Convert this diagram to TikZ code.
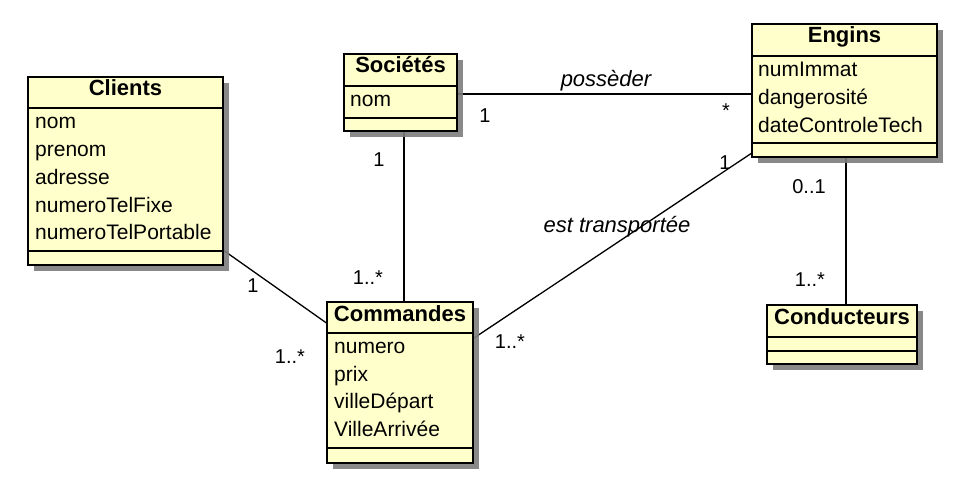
\documentclass[tikz,border=0pt]{standalone}
\usepackage{fontspec}
\setmainfont{Liberation Sans}
\usetikzlibrary{shadows}
\pgfdeclarelayer{background}
\pgfsetlayers{background,main}
\definecolor{umlfill}{RGB}{255,255,204}
\definecolor{shadowgray}{RGB}{125,125,125}
\begin{document}
\begin{tikzpicture}[x=1pt,y=-1pt,
  cls/.style={draw=black, line width=1.6pt, fill=umlfill, inner sep=0pt, outer sep=0pt,
    anchor=north west,
    drop shadow={shadow xshift=6pt, shadow yshift=-6pt, fill=shadowgray, opacity=0.9}},
  div/.style={line width=1.6pt},
  ctitle/.style={font=\fontsize{22}{26}\selectfont\bfseries, anchor=base, inner sep=0pt},
  attr/.style={font=\fontsize{21}{25}\selectfont, anchor=base west, inner sep=0pt},
  mult/.style={font=\fontsize{20}{24}\selectfont, inner sep=0pt},
  rolelbl/.style={font=\fontsize{22}{26}\selectfont\itshape, anchor=base, inner sep=0pt},
  assoc/.style={line width=1.3pt}
]
\useasboundingbox (0,0) rectangle (954,492);

% ---- Clients
\node[cls, minimum width=195pt, minimum height=188pt] (clients) at (28,77) {};
\draw[div] ([yshift=-31pt]clients.north west) -- ([yshift=-31pt]clients.north east);
\draw[div] ([yshift=14pt]clients.south west) -- ([yshift=14pt]clients.south east);
\node[ctitle] (clientsT) at (125.5,96) {Clients};
\node[attr] (cl1) at (35,129) {nom};
\node[attr] (cl2) at (35,157) {prenom};
\node[attr] (cl3) at (35,185) {adresse};
\node[attr] (cl4) at (35,212.5) {numeroTelFixe};
\node[attr] (cl5) at (35,240) {numeroTelPortable};

% ---- Sociétés
\node[cls, minimum width=113pt, minimum height=77pt] (soc) at (344,54) {};
\draw[div] ([yshift=-32pt]soc.north west) -- ([yshift=-32pt]soc.north east);
\draw[div] ([yshift=13pt]soc.south west) -- ([yshift=13pt]soc.south east);
\node[ctitle] (socT) at (400.5,73) {Sociétés};
\node[attr] (so1) at (350,107) {nom};

% ---- Commandes
\node[cls, minimum width=146pt, minimum height=161pt] (cmd) at (327,302) {};
\draw[div] ([yshift=-31pt]cmd.north west) -- ([yshift=-31pt]cmd.north east);
\draw[div] ([yshift=15pt]cmd.south west) -- ([yshift=15pt]cmd.south east);
\node[ctitle] (cmdT) at (400,321.5) {Commandes};
\node[attr] (co1) at (334,353.5) {numero};
\node[attr] (co2) at (334,381) {prix};
\node[attr] (co3) at (334,408.5) {villeDépart};
\node[attr] (co4) at (334,436) {VilleArrivée};

% ---- Engins
\node[cls, minimum width=185pt, minimum height=133pt] (engins) at (752,24) {};
\draw[div] ([yshift=-32pt]engins.north west) -- ([yshift=-32pt]engins.north east);
\draw[div] ([yshift=14pt]engins.south west) -- ([yshift=14pt]engins.south east);
\node[ctitle] (enginsT) at (844.5,43) {Engins};
\node[attr] (en1) at (758,77) {numImmat};
\node[attr] (en2) at (758,105) {dangerosité};
\node[attr] (en3) at (758,132.5) {dateControleTech};

% ---- Conducteurs
\node[cls, minimum width=150pt, minimum height=59pt] (cond) at (767,305) {};
\draw[div] ([yshift=-32pt]cond.north west) -- ([yshift=-32pt]cond.north east);
\draw[div] ([yshift=13pt]cond.south west) -- ([yshift=13pt]cond.south east);
\node[ctitle] (condT) at (842,324) {Conducteurs};

% ---- Associations
\begin{pgfonlayer}{background}
\fill[white] (0,0) rectangle (954,492);
\draw[assoc] ([yshift=-1.5pt]soc.east) -- ([yshift=-3.5pt]engins.west);
\draw[assoc] ([xshift=3.5pt]soc.south) -- ([xshift=4pt]cmd.north);
\draw[assoc] (clients.-39.7) -- (cmd.141.8);
\draw[assoc] (engins.214.05) -- (cmd.31.9);
\draw[assoc] ([xshift=1.5pt]engins.south) -- ([xshift=4pt]cond.north);
\end{pgfonlayer}

% ---- Labels
\node[rolelbl] (lposs) at (606,86.5) {possèder};
\node[mult] (m1) at (485,116) {1};
\node[mult] (m2) at (726,111) {*};
\node[mult] (m3) at (379,160) {1};
\node[mult] (m4) at (368,278) {1..*};
\node[mult] (m5) at (253,286) {1};
\node[mult] (m6) at (290,357) {1..*};
\node[mult] (m7) at (725,163) {1};
\node[mult] (m8) at (510,342) {1..*};
\node[rolelbl] (ltrans) at (617,232.5) {est transportée};
\node[mult] (m9) at (809,187) {0..1};
\node[mult] (m10) at (810,280) {1..*};
\end{tikzpicture}
\end{document}
